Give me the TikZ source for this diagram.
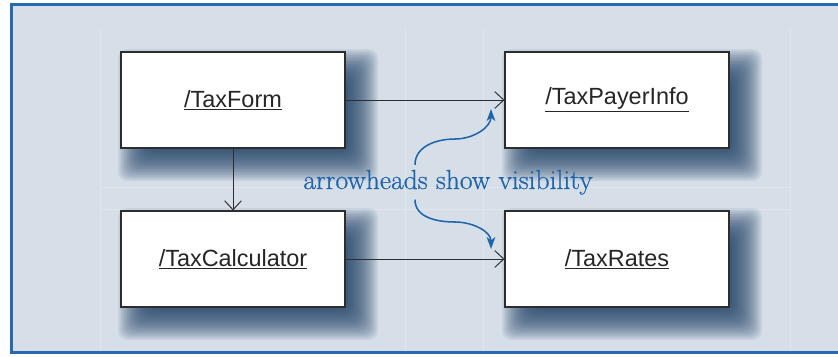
\documentclass[tikz,border=0pt]{standalone}
\usepackage{fontspec}
\setsansfont{Liberation Sans}
\newfontfamily\notefont{Latin Modern Roman}[FakeBold=0.7]
\usepackage{tikz}
\usetikzlibrary{
  arrows.meta,
  calc
}
\definecolor{panelbg}{RGB}{214,222,232}
\definecolor{panelrule}{RGB}{40,105,175}
\definecolor{noteblue}{RGB}{30,100,170}
\definecolor{shadowblue}{RGB}{32,66,102}
\definecolor{linegray}{RGB}{45,45,45}

\begin{document}
\begin{tikzpicture}[
    x=0.03cm, y=-0.03cm,
    classbox/.style={draw=linegray, line width=0.9pt, fill=white,
      minimum width=6.72cm, minimum height=2.88cm, inner sep=0pt,
      font=\sffamily\fontsize{20}{24}\selectfont, text=black!85},
    uses/.style={draw=linegray, line width=0.8pt,
      -{Straight Barb[length=0.27cm, width=0.5cm, line width=0.8pt]}},
    hint/.style={draw=noteblue, line width=1.3pt,
      -{Stealth[length=0.36cm, width=0.26cm, inset=0.1cm]}}
  ]

  \useasboundingbox (0,0) rectangle (838,356);
  \clip (0,0) rectangle (838,356);

  %% --- Panel ---
  \fill[panelbg] (10,3) rectangle (838,354);
  \draw[white, opacity=0.22, line width=0.8pt]
    (100,28) -- (100,352) (405,28) -- (405,352) (483,28) -- (483,352)
    (790,28) -- (790,352) (100,187) -- (790,187) (100,209) -- (790,209);
  \draw[panelrule, line width=2.4pt] (845,4.5) -- (11.5,4.5) -- (11.5,352.5) -- (845,352.5);

  %% --- Classes with their shadows ---
  \foreach \n/\cx/\cy/\t in {form/233/100/TaxForm, payer/617/100/TaxPayerInfo,
                             calc/233/259/TaxCalculator, rates/617/259/TaxRates} {
    \foreach \k in {0,...,23}
      \fill[shadowblue, opacity=0.075, rounded corners=8pt]
        let \n1 = {18-1.5*\k} in
        (\cx-97-\n1, \cy-33-\n1) rectangle (\cx+127+\n1, \cy+63+\n1);
    \node[classbox] (\n) at (\cx,\cy) {\underline{/\t}};
  }

  %% --- Visibility ---
  \draw[uses] (form.east) -- (payer.west);
  \draw[uses] (form.south) -- (calc.north);
  \draw[uses] (calc.east) -- (rates.west);

  %% --- Note ---
  \node[anchor=base, text=noteblue, font=\notefont\fontsize{23.5}{28}\selectfont]
    (note) at (448,189) {arrowheads show visibility};
  \coordinate (upto) at (491,109);
  \coordinate (downto) at (491,249);
  \draw[hint] (note.north -| 415,0) ++(0,-1) to[out=90, in=180] (455,139)
    to[out=0, in=-90] (upto);
  \draw[hint] (note.south -| 415,0) ++(0,1) to[out=-90, in=180] (455,222)
    to[out=0, in=90] (downto);
\end{tikzpicture}
\end{document}
